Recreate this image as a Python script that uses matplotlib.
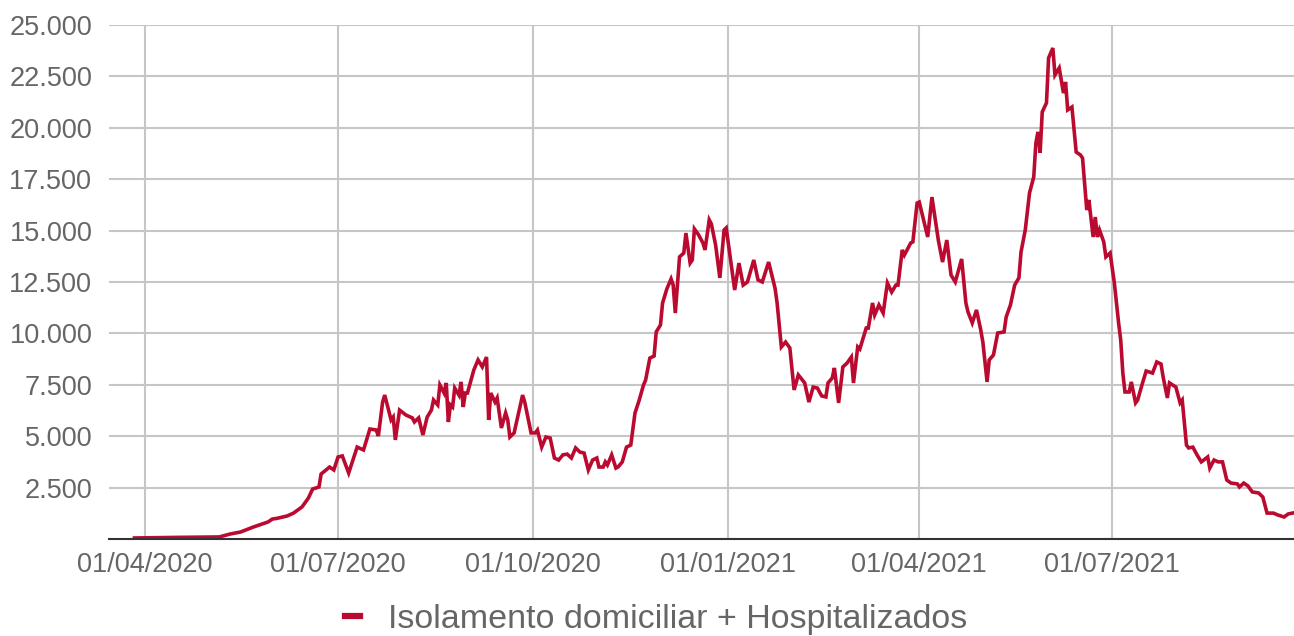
import numpy as np
import pandas as pd
import matplotlib
matplotlib.use('Agg')
import matplotlib.pyplot as plt
import matplotlib.dates as mdates
from matplotlib.lines import Line2D

# dias desde 01/04/2020 e casos ativos (isolamento domiciliar + hospitalizados)
inicio = pd.Timestamp('2020-04-01')
dias = [-5, 2, 16, 35, 40, 45, 51, 58, 60, 62, 67, 70, 74, 77, 79, 82, 83, 87, 89, 91,
        93, 96, 100, 103, 106, 109, 110, 112, 113, 116, 117, 118, 120, 123, 126, 127, 129, 131, 133, 135,
        136, 138, 139, 141, 142, 143, 144, 145, 146, 148, 149, 150, 151, 152, 155, 157, 159, 161, 162, 163,
        165, 166, 168, 170, 171, 172, 174, 178, 179, 182, 184, 185, 187, 189, 191, 193, 195, 197, 199, 201,
        203, 205, 207, 209, 211, 213, 214, 216, 217, 218, 220, 222, 223, 225, 227, 229, 231, 233, 235, 236,
        238, 240, 241, 243, 244, 246, 248, 249, 250, 252, 254, 255, 257, 258, 259, 261, 263, 264, 266, 267,
        269, 271, 273, 274, 278, 280, 282, 284, 287, 289, 291, 294, 297, 298, 300, 302, 304, 306, 308, 311,
        313, 315, 317, 319, 321, 322, 324, 325, 327, 329, 331, 333, 334, 336, 337, 340, 341, 343, 344, 346,
        348, 350, 352, 354, 355, 357, 358, 361, 362, 364, 365, 369, 371, 374, 376, 378, 380, 382, 385, 387,
        388, 390, 392, 394, 395, 397, 398, 400, 402, 405, 406, 408, 410, 412, 413, 415, 417, 419, 420, 421,
        422, 423, 425, 426, 428, 429, 431, 433, 434, 435, 437, 439, 441, 442, 444, 445, 447, 448, 449, 450,
        452, 453, 455, 457, 459, 460, 461, 462, 464, 465, 467, 468, 470, 472, 475, 477, 479, 480, 482, 483,
        486, 488, 489, 491, 492, 494, 496, 498, 501, 502, 504, 506, 508, 510, 512, 515, 516, 518, 520, 522,
        525, 527, 529, 532, 534, 537, 539, 541]
valores = [50, 60, 80, 100, 240, 340, 580, 830, 970, 1000, 1120, 1260, 1560, 1990, 2430, 2530, 3160, 3500, 3360, 3990,
           4040, 3210, 4470, 4330, 5350, 5300, 5010, 6660, 7000, 5790, 5930, 4820, 6270, 6030, 5890, 5690, 5890, 5060, 5930, 6270,
           6760, 6520, 7490, 7100, 7590, 5690, 6520, 6420, 7340, 7000, 7640, 6420, 7100, 7100, 8220, 8710, 8370, 8850, 5790, 7100,
           6660, 6860, 5400, 6130, 5790, 4960, 5160, 7000, 6660, 5160, 5160, 5300, 4470, 4960, 4910, 3940, 3840, 4090, 4130, 3940,
           4430, 4230, 4180, 3360, 3840, 3940, 3500, 3500, 3750, 3600, 4090, 3450, 3500, 3750, 4470, 4570, 6130, 6760, 7490, 7730,
           8800, 8900, 10070, 10410, 11480, 12160, 12650, 12350, 10990, 13720, 13910, 14880, 13420, 13570, 15080, 14790, 14400, 14060, 15520, 15320,
           14300, 12700, 15030, 15130, 12110, 13420, 12350, 12500, 13570, 12600, 12500, 13470, 12210, 11480, 9340, 9580, 9290, 7250, 7980, 7590,
           6660, 7390, 7340, 6960, 6910, 7590, 7830, 8320, 6620, 8370, 8560, 8850, 7590, 9340, 9240, 10260, 10260, 11480, 10900, 11380,
           10990, 12450, 12010, 12350, 12350, 14060, 13810, 14400, 14450, 16340, 16390, 14690, 16630, 14540, 13470, 14540, 12840, 12500, 13620, 11480,
           11040, 10510, 11140, 10170, 9580, 7640, 8710, 8950, 10020, 10070, 10800, 11380, 12350, 12700, 13960, 15030, 16830, 17610, 19260, 19800,
           18780, 20770, 21210, 23400, 23880, 22570, 22910, 21690, 22230, 20870, 21010, 18820, 18680, 18530, 16000, 16490, 14690, 15660, 14690, 15030,
           14450, 13720, 13910, 12450, 10510, 9680, 8070, 7150, 7150, 7640, 6620, 6760, 7490, 8170, 8070, 8610, 8510, 7880, 6860, 7590,
           7390, 6620, 6760, 4570, 4430, 4470, 4090, 3750, 3990, 3450, 3840, 3750, 3750, 2870, 2720, 2680, 2530, 2720, 2580, 2290,
           2240, 2040, 1260, 1260, 1170, 1070, 1220, 1260]

datas = inicio + pd.to_timedelta(dias, unit='D')
ticks_x = pd.to_datetime(['2020-04-01', '2020-07-01', '2020-10-01', '2021-01-01', '2021-04-01', '2021-07-01'])
ticks_y = [2500, 5000, 7500, 10000, 12500, 15000, 17500, 20000, 22500, 25000]
serie = 'Isolamento domiciliar + Hospitalizados'

cor = '#bb0a30'
cinza = '#666666'
plt.rcParams['font.family'] = ['Liberation Sans', 'DejaVu Sans']

fig = plt.figure(figsize=(12.94, 6.36), dpi=100)
ax = fig.add_axes([109 / 1294, 97 / 636, 1 - 109 / 1294, 514 / 636])

ax.plot(datas, valores, color=cor, linewidth=2.6, solid_joinstyle='miter', zorder=3)

ax.set_ylim(0, 25000)
ax.set_xlim(inicio - pd.Timedelta(days=17), inicio + pd.Timedelta(days=541.7))
ax.set_yticks(ticks_y)
ax.set_yticklabels([f'{v:,.0f}'.replace(',', '.') for v in ticks_y])
ax.set_xticks(ticks_x)
ax.xaxis.set_major_formatter(mdates.DateFormatter('%d/%m/%Y'))

ax.grid(True, color='#c6c6c6', linewidth=1.5, zorder=0)
ax.tick_params(length=0, labelsize=19.5, labelcolor=cinza)
ax.tick_params(axis='y', pad=12)
ax.tick_params(axis='x', pad=9)
for s in ['top', 'right', 'left']:
    ax.spines[s].set_visible(False)
ax.spines['bottom'].set_color('#333333')
ax.spines['bottom'].set_linewidth(1.5)
ax.spines['bottom'].set_zorder(4)

fig.legend(handles=[Line2D([0], [0], color=cor, linewidth=4.5)], labels=[serie],
           loc='center', bbox_to_anchor=(0.507, 0.026), frameon=False,
           fontsize=24.5, labelcolor=cinza, handlelength=0.45, handletextpad=0.8)

fig.savefig('out.png', dpi=100)
